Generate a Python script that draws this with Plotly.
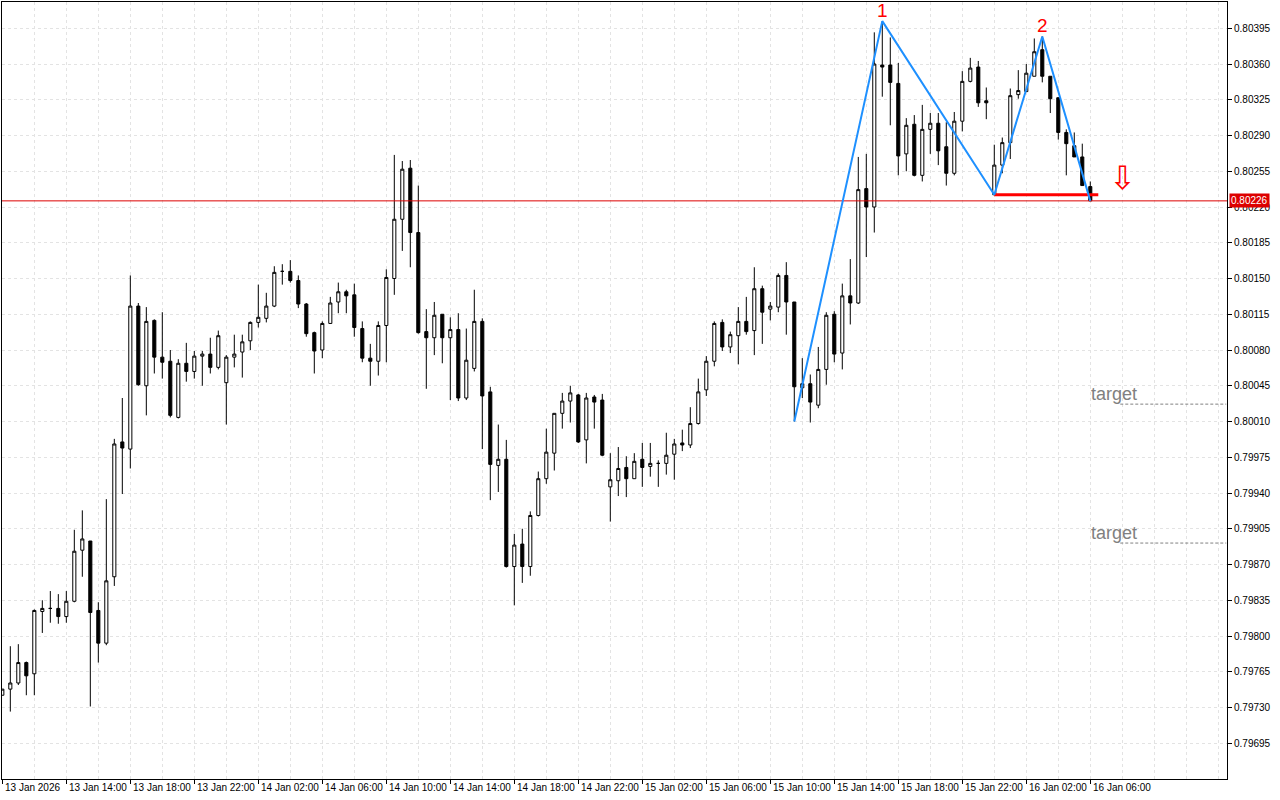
import pandas as pd
import plotly.graph_objects as go

# ---------------- data (M30 bars) ----------------
start_time = "2026-01-13 10:00"
bar_minutes = 30

open_ = [0.79742, 0.79748, 0.79754, 0.79774, 0.79763, 0.79824, 0.79827, 0.79827, 0.79819, 0.79834,
         0.79884, 0.79893, 0.79825, 0.79793, 0.79858, 0.79990, 0.79983, 0.80123, 0.80045, 0.80109,
         0.80073, 0.80069, 0.80014, 0.80067, 0.80059, 0.80074, 0.80076, 0.80063, 0.80048, 0.80073,
         0.80078, 0.80089, 0.80107, 0.80111, 0.80123, 0.80157, 0.80157, 0.80148, 0.80125, 0.80097,
         0.80080, 0.80106, 0.80127, 0.80137, 0.80134, 0.80101, 0.80072, 0.80069, 0.80104, 0.80150,
         0.80208, 0.80258, 0.80195, 0.80098, 0.80092, 0.80115, 0.80092, 0.80100, 0.80033, 0.80062,
         0.80108, 0.80039, 0.79967, 0.79973, 0.79868, 0.79890, 0.79868, 0.79918, 0.79954, 0.79979,
         0.80018, 0.80030, 0.80036, 0.79992, 0.80034, 0.80031, 0.79946, 0.79952, 0.79965, 0.79954,
         0.79973, 0.79966, 0.79969, 0.79969, 0.79978, 0.79989, 0.79987, 0.80008, 0.80041, 0.80069,
         0.80107, 0.80083, 0.80094, 0.80108, 0.80099, 0.80140, 0.80120, 0.80122, 0.80153, 0.80127,
         0.80043, 0.80047, 0.80026, 0.80061, 0.80115, 0.80077, 0.80133, 0.80126, 0.80238, 0.80220,
         0.80359, 0.80359, 0.80341, 0.80272, 0.80301, 0.80251, 0.80296, 0.80302, 0.80279, 0.80253,
         0.80304, 0.80343, 0.80357, 0.80324, 0.80232, 0.80261, 0.80283, 0.80330, 0.80333, 0.80348,
         0.80374, 0.80348, 0.80327, 0.80293, 0.80280, 0.80269, 0.80240]
high_ = [0.79748, 0.79790, 0.79792, 0.79775, 0.79826, 0.79835, 0.79844, 0.79841, 0.79844, 0.79904,
         0.79923, 0.79893, 0.79833, 0.79934, 0.79993, 0.80033, 0.80153, 0.80126, 0.80122, 0.80110,
         0.80117, 0.80080, 0.80071, 0.80087, 0.80079, 0.80079, 0.80092, 0.80099, 0.80075, 0.80095,
         0.80095, 0.80108, 0.80144, 0.80136, 0.80162, 0.80164, 0.80168, 0.80153, 0.80126, 0.80098,
         0.80108, 0.80132, 0.80146, 0.80139, 0.80145, 0.80108, 0.80086, 0.80108, 0.80159, 0.80271,
         0.80265, 0.80266, 0.80241, 0.80120, 0.80127, 0.80115, 0.80112, 0.80116, 0.80101, 0.80139,
         0.80111, 0.80044, 0.80007, 0.79992, 0.79900, 0.79905, 0.79922, 0.79961, 0.80003, 0.80018,
         0.80038, 0.80045, 0.80037, 0.80038, 0.80036, 0.80037, 0.79979, 0.79985, 0.79976, 0.79979,
         0.79989, 0.79989, 0.79972, 0.79999, 0.79993, 0.80002, 0.80024, 0.80052, 0.80074, 0.80108,
         0.80110, 0.80098, 0.80122, 0.80132, 0.80161, 0.80143, 0.80127, 0.80155, 0.80166, 0.80127,
         0.80072, 0.80056, 0.80083, 0.80117, 0.80118, 0.80145, 0.80169, 0.80269, 0.80272, 0.80391,
         0.80402, 0.80386, 0.80361, 0.80307, 0.80310, 0.80320, 0.80312, 0.80312, 0.80303, 0.80313,
         0.80353, 0.80366, 0.80363, 0.80337, 0.80281, 0.80288, 0.80336, 0.80354, 0.80360, 0.80385,
         0.80387, 0.80348, 0.80327, 0.80296, 0.80293, 0.80282, 0.80245]
low_ = [0.79742, 0.79726, 0.79752, 0.79742, 0.79742, 0.79803, 0.79813, 0.79812, 0.79813, 0.79833,
        0.79858, 0.79731, 0.79774, 0.79791, 0.79849, 0.79939, 0.79964, 0.80045, 0.80016, 0.80057,
        0.80052, 0.80014, 0.80013, 0.80049, 0.80052, 0.80045, 0.80057, 0.80061, 0.80007, 0.80063,
        0.80053, 0.80080, 0.80102, 0.80107, 0.80122, 0.80144, 0.80146, 0.80121, 0.80093, 0.80057,
        0.80072, 0.80106, 0.80116, 0.80116, 0.80093, 0.80068, 0.80045, 0.80055, 0.80068, 0.80134,
        0.80177, 0.80161, 0.80096, 0.80042, 0.80075, 0.80067, 0.80031, 0.80030, 0.80031, 0.80059,
        0.79983, 0.79933, 0.79941, 0.79867, 0.79830, 0.79852, 0.79859, 0.79917, 0.79949, 0.79962,
        0.80003, 0.80009, 0.79989, 0.79969, 0.80003, 0.79976, 0.79912, 0.79937, 0.79936, 0.79954,
        0.79946, 0.79956, 0.79946, 0.79958, 0.79953, 0.79981, 0.79984, 0.80007, 0.80035, 0.80064,
        0.80079, 0.80077, 0.80066, 0.80095, 0.80075, 0.80086, 0.80109, 0.80117, 0.80095, 0.80010,
        0.80033, 0.80009, 0.80023, 0.80046, 0.80068, 0.80061, 0.80105, 0.80125, 0.80171, 0.80195,
        0.80328, 0.80300, 0.80251, 0.80255, 0.80250, 0.80245, 0.80272, 0.80261, 0.80241, 0.80251,
        0.80294, 0.80342, 0.80318, 0.80306, 0.80232, 0.80253, 0.80267, 0.80326, 0.80333, 0.80348,
        0.80342, 0.80312, 0.80286, 0.80251, 0.80269, 0.80241, 0.80226]
close_ = [0.79748, 0.79754, 0.79774, 0.79761, 0.79825, 0.79827, 0.79827, 0.79819, 0.79834, 0.79883,
          0.79895, 0.79823, 0.79793, 0.79854, 0.79988, 0.79984, 0.80123, 0.80046, 0.80108, 0.80073,
          0.80068, 0.80016, 0.80067, 0.80059, 0.80074, 0.80076, 0.80063, 0.80094, 0.80073, 0.80076,
          0.80088, 0.80107, 0.80112, 0.80123, 0.80156, 0.80157, 0.80148, 0.80125, 0.80096, 0.80079,
          0.80106, 0.80126, 0.80137, 0.80133, 0.80102, 0.80072, 0.80069, 0.80104, 0.80151, 0.80208,
          0.80257, 0.80195, 0.80097, 0.80092, 0.80114, 0.80092, 0.80100, 0.80033, 0.80070, 0.80108,
          0.80035, 0.79968, 0.79973, 0.79868, 0.79889, 0.79868, 0.79918, 0.79954, 0.79980, 0.80018,
          0.80030, 0.80038, 0.79990, 0.80033, 0.80029, 0.79977, 0.79953, 0.79964, 0.79954, 0.79971,
          0.79965, 0.79969, 0.79969, 0.79977, 0.79988, 0.79987, 0.80008, 0.80039, 0.80069, 0.80106,
          0.80083, 0.80095, 0.80108, 0.80098, 0.80140, 0.80117, 0.80123, 0.80153, 0.80127, 0.80044,
          0.80047, 0.80029, 0.80061, 0.80114, 0.80076, 0.80133, 0.80126, 0.80237, 0.80220, 0.80360,
          0.80357, 0.80342, 0.80270, 0.80300, 0.80251, 0.80296, 0.80302, 0.80275, 0.80253, 0.80304,
          0.80343, 0.80356, 0.80322, 0.80322, 0.80261, 0.80283, 0.80329, 0.80334, 0.80351, 0.80372,
          0.80348, 0.80326, 0.80293, 0.80282, 0.80269, 0.80241, 0.80226]

# zigzag pivots (bar index, which price)
zigzag_bars = [99, 110, 124, 130, 136]
zigzag_kind = ["low", "high", "low", "high", "close"]
peak_labels = [(110, "1"), (130, "2")]
neck_bars = [124, 137]           # neckline from the bar-124 low
targets = [0.80027, 0.79891]
arrow_bar, arrow_price = 140, 0.80248

y_ticks = [0.79695, 0.79730, 0.79765, 0.79800, 0.79835, 0.79870, 0.79905, 0.79940, 0.79975,
           0.80010, 0.80045, 0.80080, 0.80115, 0.80150, 0.80185, 0.80220, 0.80255, 0.80290,
           0.80325, 0.80360, 0.80395]
x_label_bars = list(range(0, 137, 8))
x_labels = ["13 Jan 2026", "13 Jan 14:00", "13 Jan 18:00", "13 Jan 22:00", "14 Jan 02:00",
            "14 Jan 06:00", "14 Jan 10:00", "14 Jan 14:00", "14 Jan 18:00", "14 Jan 22:00",
            "15 Jan 02:00", "15 Jan 06:00", "15 Jan 10:00", "15 Jan 14:00", "15 Jan 18:00",
            "15 Jan 22:00", "16 Jan 02:00", "16 Jan 06:00"]

# ---------------- helpers ----------------
t0 = pd.Timestamp(start_time)


def bar_time(k):
    return (t0 + pd.Timedelta(minutes=bar_minutes * k)).strftime("%Y-%m-%d %H:%M:%S.%f")


times = [bar_time(k) for k in range(len(open_))]
price_of = {"low": low_, "high": high_, "close": close_}

FONT = "Liberation Sans, Arial, sans-serif"
RED = "#dd0000"
AXIS_FONT_SIZE = 10

fig = go.Figure()

fig.add_trace(go.Candlestick(
    x=times, open=open_, high=high_, low=low_, close=close_,
    increasing=dict(line=dict(color="black", width=1), fillcolor="white"),
    decreasing=dict(line=dict(color="black", width=1), fillcolor="black"),
    whiskerwidth=0, showlegend=False, hoverinfo="skip",
))

# current price line
fig.add_trace(go.Scatter(
    x=[bar_time(-1), bar_time(160)], y=[close_[-1], close_[-1]], mode="lines",
    line=dict(color=RED, width=1), showlegend=False, hoverinfo="skip"))

# neckline
neck_level = low_[neck_bars[0]]
fig.add_trace(go.Scatter(
    x=[bar_time(b) for b in neck_bars], y=[neck_level, neck_level], mode="lines",
    line=dict(color="#ff0000", width=3), showlegend=False, hoverinfo="skip"))

# zigzag
fig.add_trace(go.Scatter(
    x=[times[b] for b in zigzag_bars],
    y=[price_of[k][b] for b, k in zip(zigzag_bars, zigzag_kind)],
    mode="lines", line=dict(color="#1e90ff", width=2), showlegend=False, hoverinfo="skip"))

# target lines
for tp in targets:
    fig.add_trace(go.Scatter(
        x=[bar_time(139.75), bar_time(153)], y=[tp, tp], mode="lines",
        line=dict(color="#808080", width=1, dash="3px,2px"), showlegend=False, hoverinfo="skip"))

annotations = []
for b, txt in peak_labels:
    annotations.append(dict(x=times[b], y=high_[b], xref="x", yref="y", text=txt,
                            showarrow=False, yanchor="middle", yshift=11,
                            font=dict(family=FONT, size=19, color="#ff0000")))
for tp in targets:
    annotations.append(dict(x=bar_time(138.95), y=tp, xref="x", yref="y", text="target",
                            showarrow=False, yanchor="bottom", yshift=-2,
                            font=dict(family=FONT, size=18, color="#808080")))
annotations.append(dict(x=bar_time(arrow_bar), y=arrow_price, xref="x", yref="y", text="⇩",
                        showarrow=False, yanchor="middle",
                        font=dict(family="DejaVu Sans", size=32, color="#ff0000")))
# price tag on the axis
annotations.append(dict(x=1, y=close_[-1], xref="paper", yref="y", text="0.80226",
                        showarrow=False, xanchor="left", yanchor="middle", xshift=2,
                        bgcolor=RED, borderpad=1,
                        font=dict(family=FONT, size=AXIS_FONT_SIZE, color="white")))
# time labels (left-aligned after tick, as in MT4)
for b, txt in zip(x_label_bars, x_labels):
    annotations.append(dict(x=times[b], y=0, xref="x", yref="paper", text=txt,
                            showarrow=False, xanchor="left", yanchor="top", xshift=1, yshift=-1,
                            font=dict(family=FONT, size=AXIS_FONT_SIZE, color="black")))

GRID = "#e3e3e3"
fig.update_layout(
    width=1280, height=800,
    margin=dict(l=2, r=53, t=2, b=21),
    paper_bgcolor="white", plot_bgcolor="white",
    boxgap=0.45,
    font=dict(family=FONT, size=10, color="black"),
    annotations=annotations,
    xaxis=dict(
        type="date",
        range=[bar_time(-0.04), bar_time(153.09)],
        rangeslider=dict(visible=False),
        tickmode="array", tickvals=[times[b] for b in x_label_bars],
        showticklabels=False, ticks="outside", ticklen=4, tickcolor="black",
        showgrid=True, gridcolor=GRID, griddash="3px,3px", gridwidth=1,
        minor=dict(tickmode="linear", tick0=times[0], dtick=2 * 3600 * 1000,
                   showgrid=True, gridcolor=GRID, griddash="3px,3px", ticks=""),
        showline=True, linecolor="black", linewidth=1, mirror=True,
        zeroline=False, fixedrange=True,
    ),
    yaxis=dict(
        side="right",
        range=[0.796600, 0.804207],
        tickmode="array", tickvals=y_ticks, ticktext=[f"{v:.5f}" for v in y_ticks],
        ticks="outside", ticklen=4, tickcolor="black",
        tickfont=dict(family=FONT, size=AXIS_FONT_SIZE, color="black"),
        showgrid=True, gridcolor=GRID, griddash="3px,3px", gridwidth=1,
        showline=True, linecolor="black", linewidth=1, mirror=True,
        zeroline=False, fixedrange=True,
    ),
)

fig.write_html(
    "out.html",
    config={"displayModeBar": False},
    post_script="document.body.style.margin='0';document.body.style.padding='0';"
                "document.body.style.overflow='hidden';",
)
